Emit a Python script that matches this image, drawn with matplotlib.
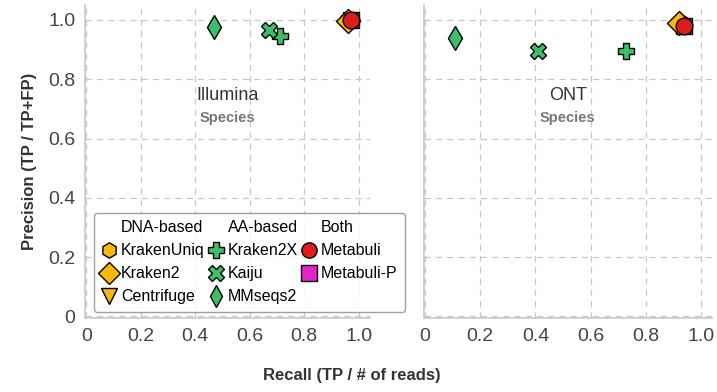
import matplotlib
matplotlib.use('agg')
import matplotlib.pyplot as plt
from matplotlib.lines import Line2D

plt.rcParams['font.family'] = ['Liberation Sans', 'DejaVu Sans']

# tools and styles
tools = ['KrakenUniq', 'Kraken2', 'Centrifuge', 'Kraken2X', 'Kaiju', 'MMseqs2', 'Metabuli', 'Metabuli-P']
markers = ['h', 'D', 'v', 'P', 'X', 'd', 'o', 's']
colors = ['#F7B80C', '#F7B80C', '#F7B80C', '#3DBE6B', '#3DBE6B', '#3DBE6B', '#DD1C1C', '#E524C8']

# Illumina, species level (recall, precision); None = not shown
illumina_recall = [0.96, 0.96, None, 0.71, 0.67, 0.47, 0.97, 0.97]
illumina_precision = [1.00, 0.995, None, 0.945, 0.965, 0.975, 1.00, 1.00]

# ONT, species level
ont_recall = [0.93, 0.92, None, 0.73, 0.41, 0.11, 0.94, 0.94]
ont_precision = [0.99, 0.99, None, 0.895, 0.895, 0.94, 0.98, 0.98]

tick_vals = [0, 0.2, 0.4, 0.6, 0.8, 1.0]
tick_labels = ['0', '0.2', '0.4', '0.6', '0.8', '1.0']

fig = plt.figure(figsize=(7.17, 3.92), dpi=100)
ax1 = fig.add_axes([0.1185, 0.189, 0.397, 0.798])
ax2 = fig.add_axes([0.591, 0.189, 0.402, 0.798])

# draw order: Metabuli-P underneath, then others, Metabuli on top
order = [7, 2, 0, 1, 3, 4, 5, 6]

for ax, rec, prec, name in [(ax1, illumina_recall, illumina_precision, 'Illumina'),
                            (ax2, ont_recall, ont_precision, 'ONT')]:
    for i in order:
        if rec[i] is None:
            continue
        ax.plot(rec[i], prec[i], marker=markers[i], color=colors[i], markersize=12,
                markeredgecolor='black', markeredgewidth=1.0, linestyle='none', zorder=3)
    ax.set_xlim(-0.005, 1.04)
    ax.set_ylim(-0.005, 1.05)
    ax.set_xticks(tick_vals)
    ax.set_xticklabels(tick_labels)
    ax.set_yticks(tick_vals)
    ax.grid(True, linestyle=(0, (5, 4)), color='#c8c8c8', linewidth=0.9)
    ax.set_axisbelow(True)
    for side in ['top', 'right']:
        ax.spines[side].set_visible(False)
    for side in ['left', 'bottom']:
        ax.spines[side].set_color('#c8c8c8')
        ax.spines[side].set_linewidth(1.2)
    ax.tick_params(length=0, labelsize=14, labelcolor='#444444', pad=7)
    ax.text(0.5, 0.712, name, transform=ax.transAxes, ha='center', va='center',
            fontsize=13, color='#333333')
    ax.text(0.5, 0.64, 'Species', transform=ax.transAxes, ha='center', va='center',
            fontsize=10.5, color='#777777', fontweight='bold')

ax1.set_yticklabels(tick_labels)
ax2.set_yticklabels([])
ax1.set_ylabel('Precision (TP / TP+FP)', fontsize=12, fontweight='bold', color='#333333',
               labelpad=8)
fig.text(0.49, 0.03, 'Recall (TP / # of reads)', ha='center', fontsize=12,
         fontweight='bold', color='#333333')

# legend with column headers
def handle(i):
    return Line2D([], [], marker=markers[i], color=colors[i], markersize=11,
                  markeredgecolor='black', markeredgewidth=1.0, linestyle='none')

blank = Line2D([], [], linestyle='none', marker=None)
handles = [blank, handle(0), handle(1), handle(2),
           blank, handle(3), handle(4), handle(5),
           blank, handle(6), handle(7), blank]
labels = ['DNA-based', 'KrakenUniq', 'Kraken2', 'Centrifuge',
          'AA-based', 'Kraken2X', 'Kaiju', 'MMseqs2',
          'Both', 'Metabuli', 'Metabuli-P', '']
leg = ax1.legend(handles, labels, ncol=3, loc='lower left', bbox_to_anchor=(0.025, 0.015),
                 fontsize=11.5, handlelength=1.0, handletextpad=0.25, columnspacing=0.2,
                 labelspacing=0.5, frameon=True, borderpad=0.45, fancybox=True,
                 borderaxespad=0.1)
leg.get_frame().set_edgecolor('#888888')
leg.set_zorder(5)

plt.savefig('out.png', dpi=100)
